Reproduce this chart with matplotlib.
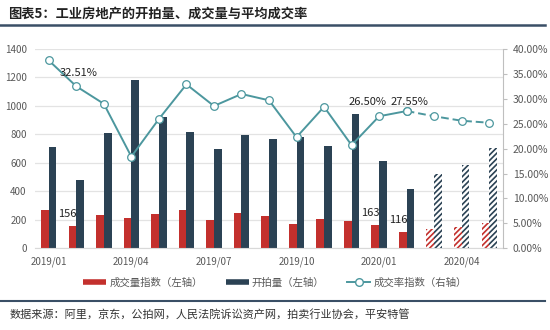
import matplotlib
matplotlib.use("Agg")
import matplotlib.pyplot as plt
from matplotlib.lines import Line2D
from matplotlib.ticker import FuncFormatter, MultipleLocator

plt.rcParams['font.family'] = ['Noto Sans CJK SC', 'DejaVu Sans']
plt.rcParams['hatch.linewidth'] = 1.2

months = ["2019/01", "2019/02", "2019/03", "2019/04", "2019/05", "2019/06",
          "2019/07", "2019/08", "2019/09", "2019/10", "2019/11", "2019/12",
          "2020/01", "2020/02", "2020/03", "2020/04", "2020/05"]
deal_index = [267, 156, 237, 215, 241, 267, 196, 246, 227, 173, 204, 192,
              163, 116, 136, 152, 180]
auction_count = [710, 478, 813, 1185, 925, 817, 698, 794, 771, 785, 719, 942,
                 614, 419, 520, 585, 703]
deal_rate = [37.7, 32.51, 29.0, 18.4, 25.95, 32.9, 28.56, 30.97, 29.7, 22.3,
             28.4, 20.7, 26.50, 27.55, 26.5, 25.6, 25.2]
forecast = [False] * 14 + [True] * 3
tick_labels = ["2019/01", "2019/04", "2019/07", "2019/10", "2020/01", "2020/04"]
bar_labels = {1: "156", 12: "163", 13: "116"}
rate_labels = {1: "32.51%", 12: "26.50%", 13: "27.55%"}

RED = "#C3302D"
DARK = "#2B4254"
TEAL = "#4C979E"
GRID = "#E3E3E3"
TXT = "#595959"

fig = plt.figure(figsize=(5.5, 3.3), dpi=100)
ax = fig.add_axes([35 / 550, 1 - 248.3 / 330, 468 / 550, 199.3 / 330])
ax2 = ax.twinx()

x = list(range(len(months)))
w = 0.28
for i in x:
    if forecast[i]:
        ax.bar(i - w / 2, deal_index[i], w, facecolor="white", edgecolor=RED,
               hatch="//////", linewidth=0, zorder=2)
        ax.bar(i + w / 2, auction_count[i], w, facecolor="white", edgecolor=DARK,
               hatch="//////", linewidth=0, zorder=2)
    else:
        ax.bar(i - w / 2, deal_index[i], w, color=RED, zorder=2)
        ax.bar(i + w / 2, auction_count[i], w, color=DARK, zorder=2)

for i, s in bar_labels.items():
    ax.annotate(s, (i - w / 2, deal_index[i]), xytext=(-3.5, 5),
                textcoords="offset points", ha="center", va="bottom",
                fontsize=8, color="#222222", zorder=5)

ax.set_xlim(-0.5, len(months) - 0.5)
ax.set_ylim(0, 1400)
ax.yaxis.set_major_locator(MultipleLocator(200))
ax.grid(axis="y", color=GRID, linewidth=0.9, zorder=0)
ax.set_axisbelow(True)
ax.set_xticks([months.index(t) for t in tick_labels])
ax.set_xticklabels(tick_labels)
ax.tick_params(axis="x", length=0, labelsize=7, colors=TXT, pad=6)
ax.tick_params(axis="y", length=0, labelsize=7, colors=TXT, pad=6)
for s in ["top", "left", "right"]:
    ax.spines[s].set_visible(False)
ax.spines["bottom"].set_color("#D9D9D9")

# rate line
solid_end = forecast.index(True) - 1
ax2.plot(x[:solid_end + 1], deal_rate[:solid_end + 1], color=TEAL, lw=1.4,
         marker="o", markersize=5.5, markerfacecolor="white",
         markeredgecolor=TEAL, markeredgewidth=0.9, zorder=3)
ax2.plot(x[solid_end:], deal_rate[solid_end:], color=TEAL, lw=1.4,
         linestyle=(0, (4, 2)), marker="o", markersize=5.5,
         markerfacecolor="white", markeredgecolor=TEAL, markeredgewidth=0.9,
         zorder=3)
offsets = {1: (2, 6), 12: (-8, 7), 13: (2, 3)}
for i, s in rate_labels.items():
    ax2.annotate(s, (i, deal_rate[i]), xytext=offsets[i],
                 textcoords="offset points", ha="center", va="bottom",
                 fontsize=8, color="#222222")
ax2.set_ylim(0, 40)
ax2.yaxis.set_major_locator(MultipleLocator(5))
ax2.yaxis.set_major_formatter(FuncFormatter(lambda v, p: f"{v:.2f}%"))
ax2.tick_params(axis="y", length=3, labelsize=7.5, colors=TXT, pad=4,
                color="#BFBFBF")
for s in ["top", "left", "bottom"]:
    ax2.spines[s].set_visible(False)
ax2.spines["right"].set_color("#BFBFBF")

# legend
handles = [
    Line2D([], [], color=RED, lw=4, solid_capstyle="butt"),
    Line2D([], [], color=DARK, lw=4, solid_capstyle="butt"),
    Line2D([], [], color=TEAL, lw=1.4, marker="o", markersize=5.5,
           markerfacecolor="white", markeredgecolor=TEAL),
]
labels = ["成交量指数（左轴）", "开拍量（左轴）", "成交率指数（右轴）"]
fig.legend(handles, labels, loc="center", bbox_to_anchor=(0.5, 1 - 283 / 330),
           ncol=3, frameon=False, fontsize=7.5, handlelength=2.2,
           handletextpad=0.3, columnspacing=2.2, labelcolor=TXT)

# title & source
fig.text(8 / 550, 1 - 14 / 330, "图表5：工业房地产的开拍量、成交量与平均成交率",
         fontsize=9.5, fontweight="bold", color="#222222", va="center", ha="left")
fig.add_artist(Line2D([0, 545 / 550], [1 - 24.5 / 330, 1 - 24.5 / 330],
                      color="#3A4F66", lw=1.8, transform=fig.transFigure))
fig.add_artist(Line2D([0, 545 / 550], [1 - 301 / 330, 1 - 301 / 330],
                      color="#3A4F66", lw=1.5, transform=fig.transFigure))
fig.text(10 / 550, 1 - 314 / 330,
         "数据来源：阿里，京东，公拍网，人民法院诉讼资产网，拍卖行业协会，平安特管",
         fontsize=8, style="italic", color="#333333", va="center", ha="left")

fig.savefig("out.png", dpi=100)
